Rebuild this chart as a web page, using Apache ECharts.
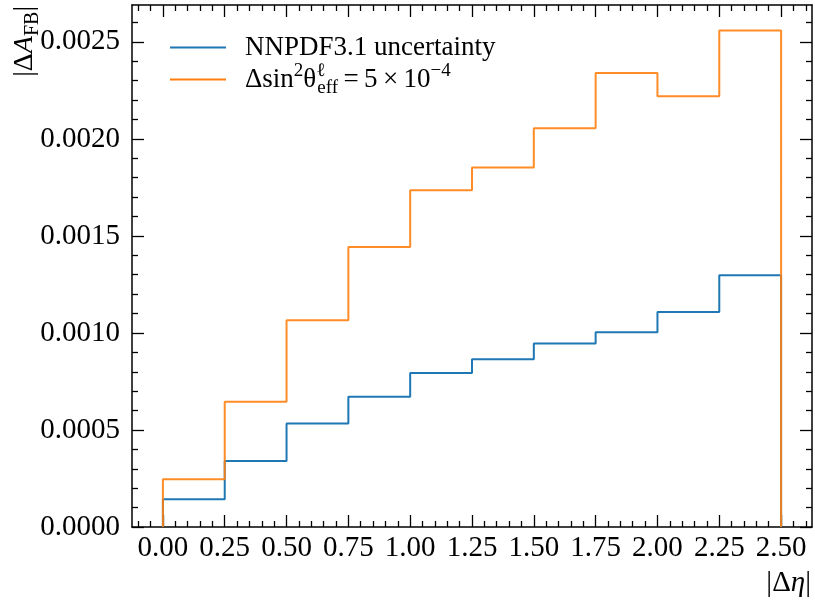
<!DOCTYPE html>
<html>
<head>
<meta charset="utf-8">
<title>|ΔA_FB| vs |Δη|</title>
<script src="https://cdn.jsdelivr.net/npm/echarts@6.0.0/dist/echarts.min.js"></script>
</head>
<body style="margin:0;background:#fff">
<div id="main" style="width:815px;height:603px;"></div>
<script>
// bin edges in |Δη| and the two step histograms
var binEdges = [0, 0.25, 0.5, 0.75, 1.0, 1.25, 1.5, 1.75, 2.0, 2.25, 2.5];
var pdfUncertainty = [0.000143, 0.000340, 0.000534, 0.000671, 0.000794, 0.000865, 0.000946, 0.001004, 0.001108, 0.001297];
var sinShift = [0.000246, 0.000645, 0.001065, 0.001443, 0.001736, 0.001853, 0.002055, 0.002340, 0.002220, 0.002558];

var xMajor = [0, 0.25, 0.5, 0.75, 1.0, 1.25, 1.5, 1.75, 2.0, 2.25, 2.5];
var yMajor = [0, 0.0005, 0.001, 0.0015, 0.002, 0.0025];

// minor ticks: 0.05 on x, 0.0001 on y
var xMinor = [];
for (var k = -2; k <= 52; k++) { if (k % 5 !== 0) xMinor.push(k * 0.05); }
var yMinor = [];
for (var j = 1; j <= 26; j++) { if (j % 5 !== 0) yMinor.push(j * 0.0001); }

var FONT = '"Liberation Serif", "DejaVu Serif", serif';
var BLACK = '#000';

function stepPoints(edges, vals) {
    var pts = [[edges[0], 0]];
    for (var i = 0; i < vals.length; i++) {
        pts.push([edges[i], vals[i]]);
        pts.push([edges[i + 1], vals[i]]);
    }
    pts.push([edges[edges.length - 1], 0]);
    return pts;
}

function tickAxis(pos, min, max, ticks, len, showLine, labelFmt) {
    return {
        type: 'value',
        position: pos,
        min: min,
        max: max,
        axisLine: {show: showLine, onZero: false, lineStyle: {color: BLACK, width: 1.5}},
        axisTick: {show: true, inside: true, length: len, customValues: ticks,
                   lineStyle: {color: BLACK, width: 1.3}},
        axisLabel: labelFmt ? {
            show: true, customValues: ticks, formatter: labelFmt,
            fontFamily: FONT, fontSize: 29, color: BLACK,
            margin: (pos === 'bottom' ? 7 : 12)
        } : {show: false},
        splitLine: {show: false}
    };
}

var xMin = -0.125, xMax = 2.625, yMin = 0, yMax = 0.00269;

var myChart = echarts.init(document.getElementById('main'));

var option = {
    animation: false,
    backgroundColor: '#fff',
    grid: {left: 132, right: 3, top: 5, bottom: 76},
    xAxis: [
        tickAxis('bottom', xMin, xMax, xMajor, 12, true, function (v) { return v.toFixed(2); }),
        tickAxis('bottom', xMin, xMax, xMinor, 6, false, null),
        tickAxis('top', xMin, xMax, xMajor, 12, true, null),
        tickAxis('top', xMin, xMax, xMinor, 6, false, null)
    ],
    yAxis: [
        tickAxis('left', yMin, yMax, yMajor, 12, true, function (v) { return v.toFixed(4); }),
        tickAxis('left', yMin, yMax, yMinor, 6, false, null),
        tickAxis('right', yMin, yMax, yMajor, 12, true, null),
        tickAxis('right', yMin, yMax, yMinor, 6, false, null)
    ],
    legend: {
        orient: 'vertical',
        left: 170,
        top: 34,
        padding: 0,
        itemWidth: 56,
        itemHeight: 2,
        itemGap: 0.6,
        icon: 'rect',
        data: ['NNPDF3.1 uncertainty', 'sin2theta'],
        formatter: function (name) {
            if (name === 'sin2theta') {
                return '{d|Δsin}{sup|2}{t|θ}{l|ℓ}{sub|eff}{t|\u2009=\u20095\u2009×\u200910}{sup2|−4}';
            }
            return '{d|' + name + '}';
        },
        textStyle: {
            fontFamily: FONT, fontSize: 27, color: BLACK,
            rich: {
                d: {fontFamily: FONT, fontSize: 27, lineHeight: 36, padding: [0, 0, 0, 14]},
                t: {fontFamily: FONT, fontSize: 27, lineHeight: 36},
                sup: {fontFamily: FONT, fontSize: 19, lineHeight: 11, verticalAlign: 'top'},
                l: {fontFamily: FONT, fontSize: 19, lineHeight: 11, verticalAlign: 'top', width: 1},
                sub: {fontFamily: FONT, fontSize: 19, lineHeight: 19, verticalAlign: 'bottom'},
                sup2: {fontFamily: FONT, fontSize: 19, lineHeight: 21, verticalAlign: 'top'}
            }
        }
    },
    graphic: [
        {
            type: 'text', x: 25, y: 6, rotation: Math.PI / 2,
            style: {
                text: '{r||Δ}{i|A}{s|FB}{r||}',
                align: 'right', verticalAlign: 'middle',
                rich: {
                    r: {fontFamily: FONT, fontSize: 28, lineHeight: 36, fill: BLACK},
                    i: {fontFamily: FONT, fontSize: 28, fontStyle: 'italic', lineHeight: 36, fill: BLACK},
                    s: {fontFamily: FONT, fontSize: 20, lineHeight: 22, verticalAlign: 'bottom', fill: BLACK}
                }
            }
        },
        {
            type: 'text', x: 811, y: 583,
            style: {
                text: '{r||Δ}{i|η}{r||}',
                align: 'right', verticalAlign: 'middle',
                rich: {
                    r: {fontFamily: FONT, fontSize: 29, fill: BLACK},
                    i: {fontFamily: FONT, fontSize: 29, fontStyle: 'italic', fill: BLACK}
                }
            }
        }
    ],
    series: [
        {
            name: 'NNPDF3.1 uncertainty',
            type: 'line',
            xAxisIndex: 0, yAxisIndex: 0,
            showSymbol: false,
            color: '#1f77b4',
            lineStyle: {width: 2, color: '#1f77b4'},
            data: stepPoints(binEdges, pdfUncertainty),
            z: 2
        },
        {
            name: 'sin2theta',
            type: 'line',
            xAxisIndex: 0, yAxisIndex: 0,
            showSymbol: false,
            color: '#ff7f0e',
            lineStyle: {width: 2, color: '#ff7f0e', opacity: 0.9},
            data: stepPoints(binEdges, sinShift),
            z: 3
        }
    ]
};

myChart.setOption(option);
</script>
</body>
</html>
